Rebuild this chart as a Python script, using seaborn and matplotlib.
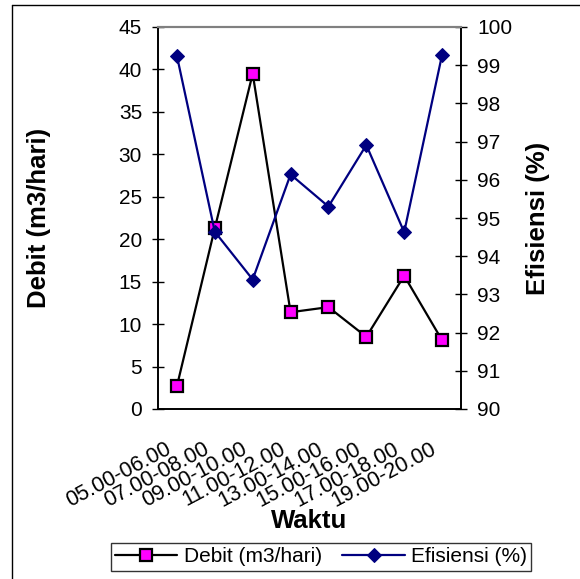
import numpy as np
import pandas as pd
import matplotlib
matplotlib.use("Agg")
import matplotlib.pyplot as plt
from matplotlib.lines import Line2D
import seaborn as sns

waktu = ["05.00-06.00", "07.00-08.00", "09.00-10.00", "11.00-12.00",
         "13.00-14.00", "15.00-16.00", "17.00-18.00", "19.00-20.00"]
debit = [2.7, 21.3, 39.5, 11.4, 12.0, 8.5, 15.7, 8.1]
efisiensi = [99.24, 94.64, 93.39, 96.14, 95.30, 96.91, 94.63, 99.27]

df = pd.DataFrame({"pos": np.arange(len(waktu)), "waktu": waktu,
                   "debit": debit, "efisiensi": efisiensi})

sns.set_style("white")
plt.rcParams["font.family"] = ["Liberation Sans", "DejaVu Sans"]
plt.rcParams.update({"text.color": "black", "axes.labelcolor": "black",
                     "xtick.color": "black", "ytick.color": "black"})

fig = plt.figure(figsize=(5.8, 5.79), dpi=100)
ax = fig.add_axes([158 / 580, 1 - 409 / 579, 303 / 580, 382 / 579])
ax2 = ax.twinx()

sns.lineplot(data=df, x="pos", y="debit", ax=ax, color="black", linewidth=1.6,
             marker="s", markersize=9, markerfacecolor="#FF00FF",
             markeredgecolor="black", markeredgewidth=1.6,
             label="Debit (m3/hari)", legend=False)
sns.lineplot(data=df, x="pos", y="efisiensi", ax=ax2, color="#000080", linewidth=1.6,
             marker="D", markersize=7.5, markerfacecolor="#000080",
             markeredgecolor="#000080", label="Efisiensi (%)", legend=False)

ax.set_xlim(-0.5, len(waktu) - 0.5)
ax.set_ylim(0, 45)
ax2.set_ylim(90, 100)
ax.set_yticks(np.arange(0, 46, 5))
ax2.set_yticks(np.arange(90, 101, 1))

# tick marks on category boundaries; rotated labels end just left of each centre
ax.set_xticks(np.arange(-0.5, len(waktu), 1.0))
ax.set_xticklabels([])
ax.set_xticks(df["pos"] - 0.18, minor=True)
ax.set_xticklabels(waktu, minor=True, rotation=28, ha="right",
                   rotation_mode="anchor", va="center", fontsize=15.5)
ax.tick_params(axis="x", which="minor", length=0, pad=28)
ax.tick_params(axis="x", which="major", direction="inout", length=9, width=1, color="black")
ax.tick_params(axis="y", direction="inout", length=9, width=1, color="black",
               labelsize=15, pad=7, left=True)
ax2.tick_params(axis="y", direction="inout", length=9, width=1, color="black",
                labelsize=15, pad=7, right=True)

for a in (ax, ax2):
    for s in ("left", "right", "bottom"):
        a.spines[s].set_color("black")
        a.spines[s].set_linewidth(1.2)
    a.spines["top"].set_color("#808080")
    a.spines["top"].set_linewidth(1.5)
    a.grid(False)

ax.set_xlabel("Waktu", fontsize=18.5, fontweight="bold")
ax.xaxis.set_label_coords(0.5, -0.3115)
ax.xaxis.label.set_verticalalignment("baseline")
ax.set_ylabel("Debit (m3/hari)", fontsize=18.5, fontweight="bold")
ax.yaxis.set_label_coords((39 - 158) / 303, 0.5)
ax.yaxis.label.set_verticalalignment("center")
ax2.set_ylabel("Efisiensi (%)", fontsize=18.5, fontweight="bold")
ax2.yaxis.set_label_coords((538 - 158) / 303, 0.5)
ax2.yaxis.label.set_verticalalignment("center")

h1, l1 = ax.get_legend_handles_labels()
h2, l2 = ax2.get_legend_handles_labels()
leg = fig.legend(h1 + h2, l1 + l2, loc="center", bbox_to_anchor=(321 / 580, 1 - 557 / 579),
                 ncol=2, fontsize=15, frameon=True, fancybox=False, shadow=False,
                 handlelength=3.0, columnspacing=1.0, handletextpad=0.3,
                 borderpad=0.2, borderaxespad=0)
leg.get_frame().set_edgecolor("black")
leg.get_frame().set_linewidth(1.0)

# chart frame (only left and top edges fall inside the picture)
fig.add_artist(Line2D([12 / 580, 12 / 580], [0, 1 - 5 / 579], transform=fig.transFigure,
                      color="black", linewidth=1.0))
fig.add_artist(Line2D([12 / 580, 1], [1 - 5 / 579, 1 - 5 / 579], transform=fig.transFigure,
                      color="black", linewidth=1.0))

fig.savefig("out.png", dpi=100)
